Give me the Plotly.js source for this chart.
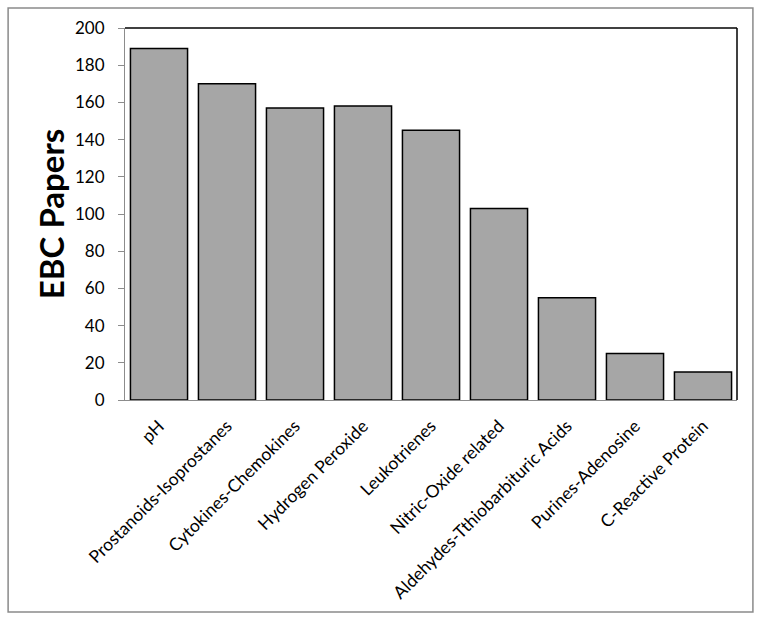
<!DOCTYPE html>
<html>
<head>
<meta charset="utf-8">
<script src="https://cdn.plot.ly/plotly-3.0.1.min.js"></script>
<style>html,body{margin:0;padding:0;background:#fff;}#chart{width:762px;height:622px;}</style>
</head>
<body>
<div id="chart"></div>
<script>
const categories = ["pH", "Prostanoids-Isoprostanes", "Cytokines-Chemokines", "Hydrogen Peroxide", "Leukotrienes", "Nitric-Oxide related", "Aldehydes-Tthiobarbituric Acids", "Purines-Adenosine", "C-Reactive Protein"];
const papers = [189, 170, 157, 158, 145, 103, 55, 25, 15];
const yTicks = [0, 20, 40, 60, 80, 100, 120, 140, 160, 180, 200];

const FONT = "Lato, 'Open Sans', sans-serif";

const trace = {
  type: "bar",
  x: categories,
  y: papers,
  marker: {color: "#a6a6a6", line: {color: "#000000", width: 1.5}},
  hoverinfo: "x+y"
};

const layout = {
  width: 762, height: 622, autosize: false,
  margin: {l: 125, r: 25, t: 28, b: 222},
  paper_bgcolor: "#ffffff", plot_bgcolor: "#ffffff",
  font: {family: FONT, color: "#000"},
  showlegend: false,
  bargap: 0.16,
  xaxis: {
    type: "category",
    tickangle: -45,
    tickfont: {family: FONT, size: 17.5, color: "#000"},
    ticklabelstandoff: 8,
    showline: true, linecolor: "#8c8c8c", linewidth: 1,
    ticks: "", showgrid: false, zeroline: false
  },
  yaxis: {
    range: [0, 200],
    tickmode: "array", tickvals: yTicks, ticktext: yTicks.map(String),
    tickfont: {family: FONT, size: 17, color: "#000"},
    ticks: "outside", ticklen: 6, tickcolor: "#8c8c8c",
    ticklabelstandoff: 10,
    showline: true, linecolor: "#8c8c8c", linewidth: 1,
    showgrid: false, zeroline: false,
    title: {text: "<b>EBC Papers</b>", font: {family: FONT, size: 33, color: "#000"}, standoff: 0}
  },
  shapes: [
    {type: "rect", xref: "paper", yref: "paper", x0: -0.191, x1: 1.026, y0: -0.570, y1: 1.054,
     line: {color: "#8a8a8a", width: 1.5}, fillcolor: "rgba(0,0,0,0)", layer: "below"},
    {type: "line", xref: "paper", yref: "paper", x0: 0, x1: 1, y0: 1, y1: 1, line: {color: "#000", width: 1.5}},
    {type: "line", xref: "paper", yref: "paper", x0: 1, x1: 1, y0: 0, y1: 1, line: {color: "#000", width: 1.5}}
  ]
};

Plotly.newPlot("chart", [trace], layout, {displayModeBar: false, staticPlot: true});
</script>
</body>
</html>
